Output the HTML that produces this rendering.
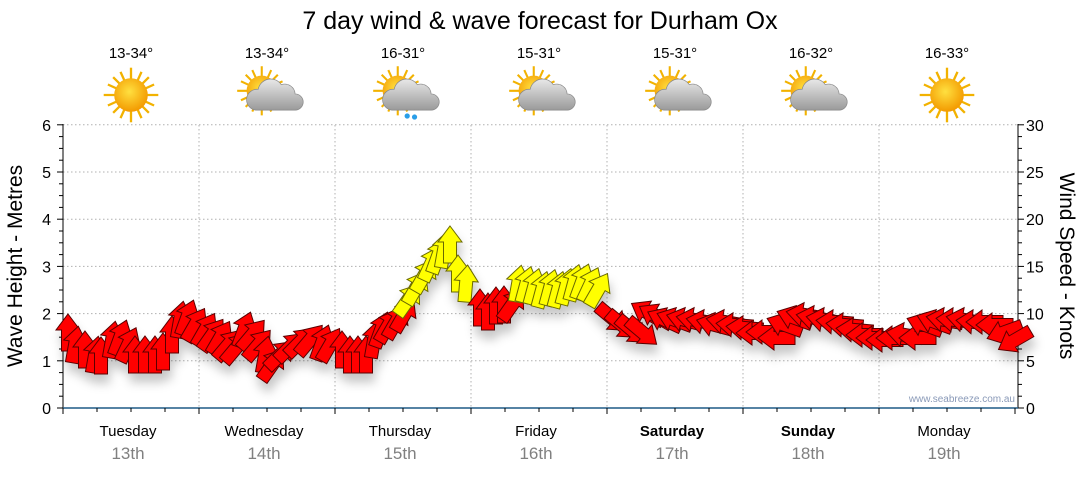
<!DOCTYPE html>
<html><head><meta charset="utf-8"><style>
body{margin:0;background:#fff;width:1080px;height:475px;overflow:hidden;font-family:"Liberation Sans",sans-serif}
</style></head><body>
<svg id="s" width="1080" height="475" xmlns="http://www.w3.org/2000/svg" font-family="Liberation Sans, sans-serif">
<defs>
<filter id="sh" x="-50%" y="-50%" width="200%" height="250%"><feDropShadow dx="2" dy="9" stdDeviation="5" flood-color="#000" flood-opacity="0.22"/></filter>
<radialGradient id="sun" cx="0.45" cy="0.4" r="0.6"><stop offset="0" stop-color="#ffe040"/><stop offset="1" stop-color="#f39a00"/></radialGradient>
<linearGradient id="cl" x1="0" y1="0" x2="0" y2="1"><stop offset="0" stop-color="#e8e8e8"/><stop offset="1" stop-color="#9a9a9a"/></linearGradient>
<g id="sunI">
<g stroke="#f2b200" stroke-width="2.2">
<line x1="0" y1="-26" x2="0" y2="26"/><line x1="-26" y1="0" x2="26" y2="0"/>
<line x1="-17" y1="-17" x2="17" y2="17"/><line x1="-17" y1="17" x2="17" y2="-17"/>
<line x1="-10" y1="-22" x2="10" y2="22"/><line x1="-22" y1="-10" x2="22" y2="10"/>
<line x1="-10" y1="22" x2="10" y2="-22"/><line x1="-22" y1="10" x2="22" y2="-10"/>
</g>
<circle r="16" fill="url(#sun)"/>
</g>
<g id="cloud"><path d="M-6,14 h34 a7,7 0 0 0 0,-14 a9,9 0 0 0 -12,-8 a11,11 0 0 0 -20,4 a9,9 0 0 0 -2,18z" fill="url(#cl)" stroke="#888" stroke-width="0.6"/></g>
</defs>
<text x="540" y="29" font-size="25" text-anchor="middle" fill="#000">7 day wind &amp; wave forecast for Durham Ox</text>
<g id="wx" font-size="15" text-anchor="middle"></g>
<g id="grid" stroke="#b0b0b0" stroke-dasharray="1.5,2.5" stroke-width="1"></g>
<g id="axes"></g>
<g id="arr" filter="url(#sh)"></g>
<text x="1015" y="402" font-size="10" fill="#8a9ab8" text-anchor="end">www.seabreeze.com.au</text>
<text transform="translate(22,266) rotate(-90)" font-size="21" text-anchor="middle">Wave Height - Metres</text>
<text transform="translate(1060,266) rotate(90)" font-size="21" text-anchor="middle">Wind Speed - Knots</text>
</svg>
<script>
const S=document.getElementById('s'),NS='http://www.w3.org/2000/svg';
function el(p,t,a,txt){const e=document.createElementNS(NS,t);for(const k in a)e.setAttribute(k,a[k]);if(txt!==undefined)e.textContent=txt;p.appendChild(e);return e;}
const X0=63,DW=136,Y0=408,YM=47.2;
const wx=document.getElementById('wx');
const temps=['13-34°','13-34°','16-31°','15-31°','15-31°','16-32°','16-33°'];
const kind=[0,1,2,1,1,1,0];
for(let i=0;i<7;i++){const cx=X0+DW*i+68;
el(wx,'text',{x:cx,y:58},temps[i]);
const g=el(wx,'g',{transform:`translate(${cx},${95}) scale(1.05)`});
el(g,'use',{href:'#sunI',transform:kind[i]?'translate(-5,-4) scale(0.9)':''});
if(kind[i]){el(g,'use',{href:'#cloud',transform:'translate(-4,-1) scale(1.1)'});}
if(kind[i]==2){el(g,'circle',{cx:4,cy:20,r:2.5,fill:'#2a9ee8'});el(g,'circle',{cx:11,cy:21,r:2.5,fill:'#2a9ee8'});}
}
const gr=document.getElementById('grid');
for(let m=1;m<=6;m++)el(gr,'line',{x1:X0,x2:1018,y1:Y0-m*YM,y2:Y0-m*YM});
for(let d=1;d<7;d++)el(gr,'line',{x1:X0+DW*d,x2:X0+DW*d,y1:125,y2:Y0});
const ax=document.getElementById('axes');
el(ax,'line',{x1:X0,x2:X0,y1:124,y2:Y0,stroke:'#000'});
el(ax,'line',{x1:1018,x2:1018,y1:124,y2:Y0,stroke:'#000'});
for(let i=0;i<=24;i++){const y=Y0-i*YM/4;const L=i%4==0?6:4;
el(ax,'line',{x1:X0-L,x2:X0,y1:y,y2:y,stroke:'#000'});el(ax,'line',{x1:1018,x2:1018+L,y1:y,y2:y,stroke:'#000'});}
for(let m=0;m<=6;m++){el(ax,'text',{x:X0-12,y:Y0-m*YM+6,'font-size':16,'text-anchor':'end'},m);
el(ax,'text',{x:1026,y:Y0-m*YM+6,'font-size':16},m*5);}
el(ax,'line',{x1:X0,x2:1018,y1:Y0,y2:Y0,stroke:'#1f5a85','stroke-width':1.5});
for(let i=0;i<=28;i++){const x=X0+i*34;el(ax,'line',{x1:x,x2:x,y1:Y0,y2:Y0+(i%4==0?6:4),stroke:'#000'});}
const days=['Tuesday','Wednesday','Thursday','Friday','Saturday','Sunday','Monday'];
for(let i=0;i<7;i++){const cx=X0+DW*i+65;
el(ax,'text',{x:cx,y:436,'font-size':15,'text-anchor':'middle','font-weight':(i==4||i==5)?'bold':'normal'},days[i]);
el(ax,'text',{x:cx,y:459,'font-size':17,'text-anchor':'middle',fill:'#808080'},(13+i)+'th');}
const R='#ff0000',Y='#ffff00';
const A=[
[68,333,0],[75,345,10],[85,350,0],[95,355,10],[101,356,0],[112,340,10],[120,338,20],[128,345,25],[135,355,0],[145,355,0],[155,355,0],[163,352,0],[172,335,0],[180,320,10],[187,318,20],[195,325,30],
[205,330,30],[212,335,35],[220,338,30],[228,345,40],[236,348,40],[244,330,20],[252,335,40],[258,345,40],[265,355,10],[272,365,35],[280,355,45],[290,347,45],[300,342,45],[310,340,40],[322,343,20],[330,345,30],
[342,350,0],[350,355,0],[358,355,0],[366,355,0],[374,340,10],[381,330,20],[388,326,30],[396,322,30],[404,315,30],
[408,300,35,Y],[416,288,30,Y],[424,276,30,Y],[431,264,25,Y],[438,256,20,Y],[444,250,10,Y],[450,245,0,Y],[458,274,0,Y],[466,284,5,Y],
[480,308,0],[488,312,0],[496,306,0],[504,305,0],[512,305,35],
[518,284,10,Y],[526,285,15,Y],[534,287,15,Y],[542,290,15,Y],[550,288,15,Y],[558,290,15,Y],[566,287,15,Y],[574,283,15,Y],[582,282,20,Y],[590,285,25,Y],[598,290,30,Y],
[612,318,130],[622,325,130],[632,330,130],[642,332,130],
[648,313,-60],[656,316,-60],[665,320,-65],[675,320,-70],[685,320,-75],[695,320,-80],[705,322,-80],[715,325,-75],[725,322,-80],[735,325,-85],[745,328,-85],[755,333,-90],[765,332,-90],[777,338,-90],[785,325,-70],[795,318,-70],[805,315,-80],[815,318,-80],[825,320,-80],[835,322,-85],[845,325,-85],[855,330,-85],[865,335,-90],[875,338,-90],[885,340,-90],[895,338,-90],[905,335,-80],[918,338,-90],[925,325,-70],[935,322,-70],[945,320,-80],[955,320,-85],[965,320,-80],[975,322,-85],[985,322,-90],[995,325,-90],[1005,332,-110],[1015,340,-120]
];
const ar=document.getElementById('arr');
const P='M0,-19 L12,-3 L6.5,-3 L6.5,18 L-6.5,18 L-6.5,-3 L-12,-3 Z';
for(const a of A){el(ar,'path',{d:P,transform:`translate(${a[0]},${a[1]}) rotate(${a[2]})`,fill:a[3]||R,stroke:a[3]?'#6a6a00':'#5a0000','stroke-width':1});}
</script>
</body></html>
